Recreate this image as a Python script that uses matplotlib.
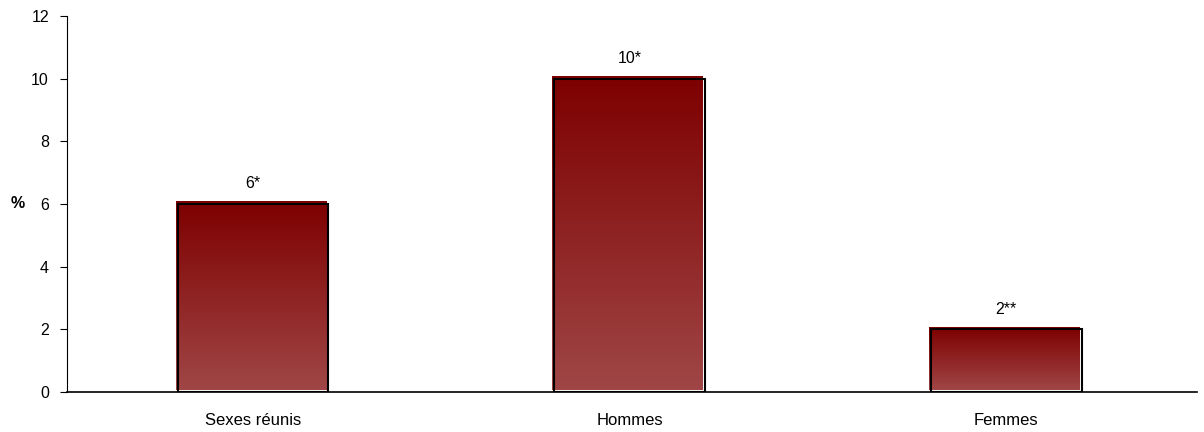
import numpy as np
import matplotlib.pyplot as plt
import matplotlib.transforms as mtransforms
from matplotlib.colors import LinearSegmentedColormap

plt.rcParams['font.family'] = ['Liberation Sans', 'DejaVu Sans']

categories = ["Sexes réunis", "Hommes", "Femmes"]
values = [6, 10, 2]
value_labels = ["6*", "10*", "2**"]

fig = plt.figure(figsize=(12.04, 4.32), dpi=100)
ax = fig.add_axes([0.0556, 0.0926, 0.9385, 0.8704])

x = np.arange(len(categories))
width = 0.4

# gradient from dark red at the top to a lighter red at the bottom
cmap = LinearSegmentedColormap.from_list("bar", ["#a04646", "#7e0000"])
grad = np.linspace(0, 1, 256).reshape(-1, 1)

bars = ax.bar(x, values, width, color="none", edgecolor="none", zorder=2)
fill_shift = mtransforms.offset_copy(ax.transData, fig=fig, x=-2, y=2, units="dots")

for rect, lab in zip(bars, value_labels):
    x0, y0 = rect.get_x(), rect.get_y()
    w, h = rect.get_width(), rect.get_height()
    im = ax.imshow(grad, cmap=cmap, origin="lower", aspect="auto",
                   extent=[x0, x0 + w, y0, y0 + h], zorder=2, interpolation="bilinear")
    im.set_transform(fill_shift)
    # black "shadow" outline sits slightly right/below the fill
    outline = plt.Rectangle((x0, y0), w, h, fill=False, edgecolor="black",
                            linewidth=1.5, zorder=3)
    ax.add_patch(outline)
    ax.text(x0 + w / 2, y0 + h + 0.4, lab, ha="center", va="bottom", fontsize=11.5)

ax.set_xlim(-0.494, 2.506)
ax.set_ylim(0, 12)
ax.set_yticks(np.arange(0, 13, 2))
ax.set_xticks(x)
ax.set_xticklabels(categories, fontsize=12)
ax.tick_params(axis="x", length=0, pad=15)
ax.tick_params(axis="y", length=5, pad=8, labelsize=11.5)

ax.spines["top"].set_visible(False)
ax.spines["right"].set_visible(False)
ax.spines["left"].set_linewidth(0.8)
ax.spines["bottom"].set_linewidth(1.2)

ax.set_ylabel("%", rotation=0, fontweight="bold", fontsize=11.5, va="center", ha="center")
ax.yaxis.set_label_coords(-0.044, 0.5)

fig.savefig("out.png", dpi=100)
